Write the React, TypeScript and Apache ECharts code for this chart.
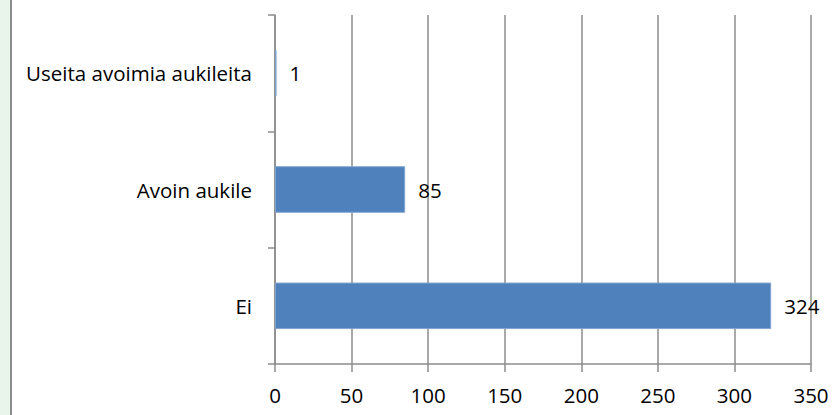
import React, { useEffect, useRef } from "react";
import * as echarts from "echarts";

const categories = ["Useita avoimia aukileita", "Avoin aukile", "Ei"];
const values = [1, 85, 324];
const xTicks = [0, 50, 100, 150, 200, 250, 300, 350];

export default function App() {
  const ref = useRef<HTMLDivElement>(null);
  useEffect(() => {
    if (!ref.current) return;
    const chart = echarts.init(ref.current, undefined, { renderer: "svg" });
    const font = "'Open Sans', sans-serif";
    chart.setOption({
      animation: false,
      backgroundColor: "#ffffff",
      graphic: [
        { type: "rect", left: 0, top: 0, shape: { width: 10, height: 415 }, style: { fill: "#E9F5EA" } },
        { type: "rect", left: 10, top: 0, shape: { width: 2, height: 415 }, style: { fill: "#8C8C8C" } },
      ],
      grid: { left: 275, right: 24, top: 15, bottom: 51, containLabel: false },
      xAxis: {
        type: "value",
        min: xTicks[0],
        max: xTicks[xTicks.length - 1],
        interval: 50,
        axisLine: { show: true, lineStyle: { color: "#8C8C8C", width: 1.5 } },
        axisTick: { show: true, length: 8, lineStyle: { color: "#8C8C8C", width: 1.5 } },
        splitLine: { show: true, lineStyle: { color: "#8C8C8C", width: 1.5 } },
        axisLabel: { color: "#000", fontFamily: font, fontSize: 20.5, margin: 20 },
      },
      yAxis: {
        type: "category",
        data: categories,
        inverse: true,
        axisLine: { show: true, lineStyle: { color: "#8C8C8C", width: 1.5 } },
        axisTick: { show: true, length: 7, inside: false, alignWithLabel: false, lineStyle: { color: "#8C8C8C", width: 1.5 } },
        axisLabel: { color: "#000", fontFamily: font, fontSize: 20.5, margin: 23 },
        splitLine: { show: false },
      },
      series: [
        {
          type: "bar",
          data: values,
          barCategoryGap: "60%",
          itemStyle: { color: "#4F81BD", borderColor: "#7FA3CF", borderWidth: 1 },
          label: { show: true, position: "right", distance: 13, color: "#000", fontFamily: font, fontSize: 20.5 },
        },
      ],
    });
    return () => chart.dispose();
  }, []);
  return <div ref={ref} style={{ position: "fixed", left: 0, top: 0, width: 835, height: 415 }} />;
}
